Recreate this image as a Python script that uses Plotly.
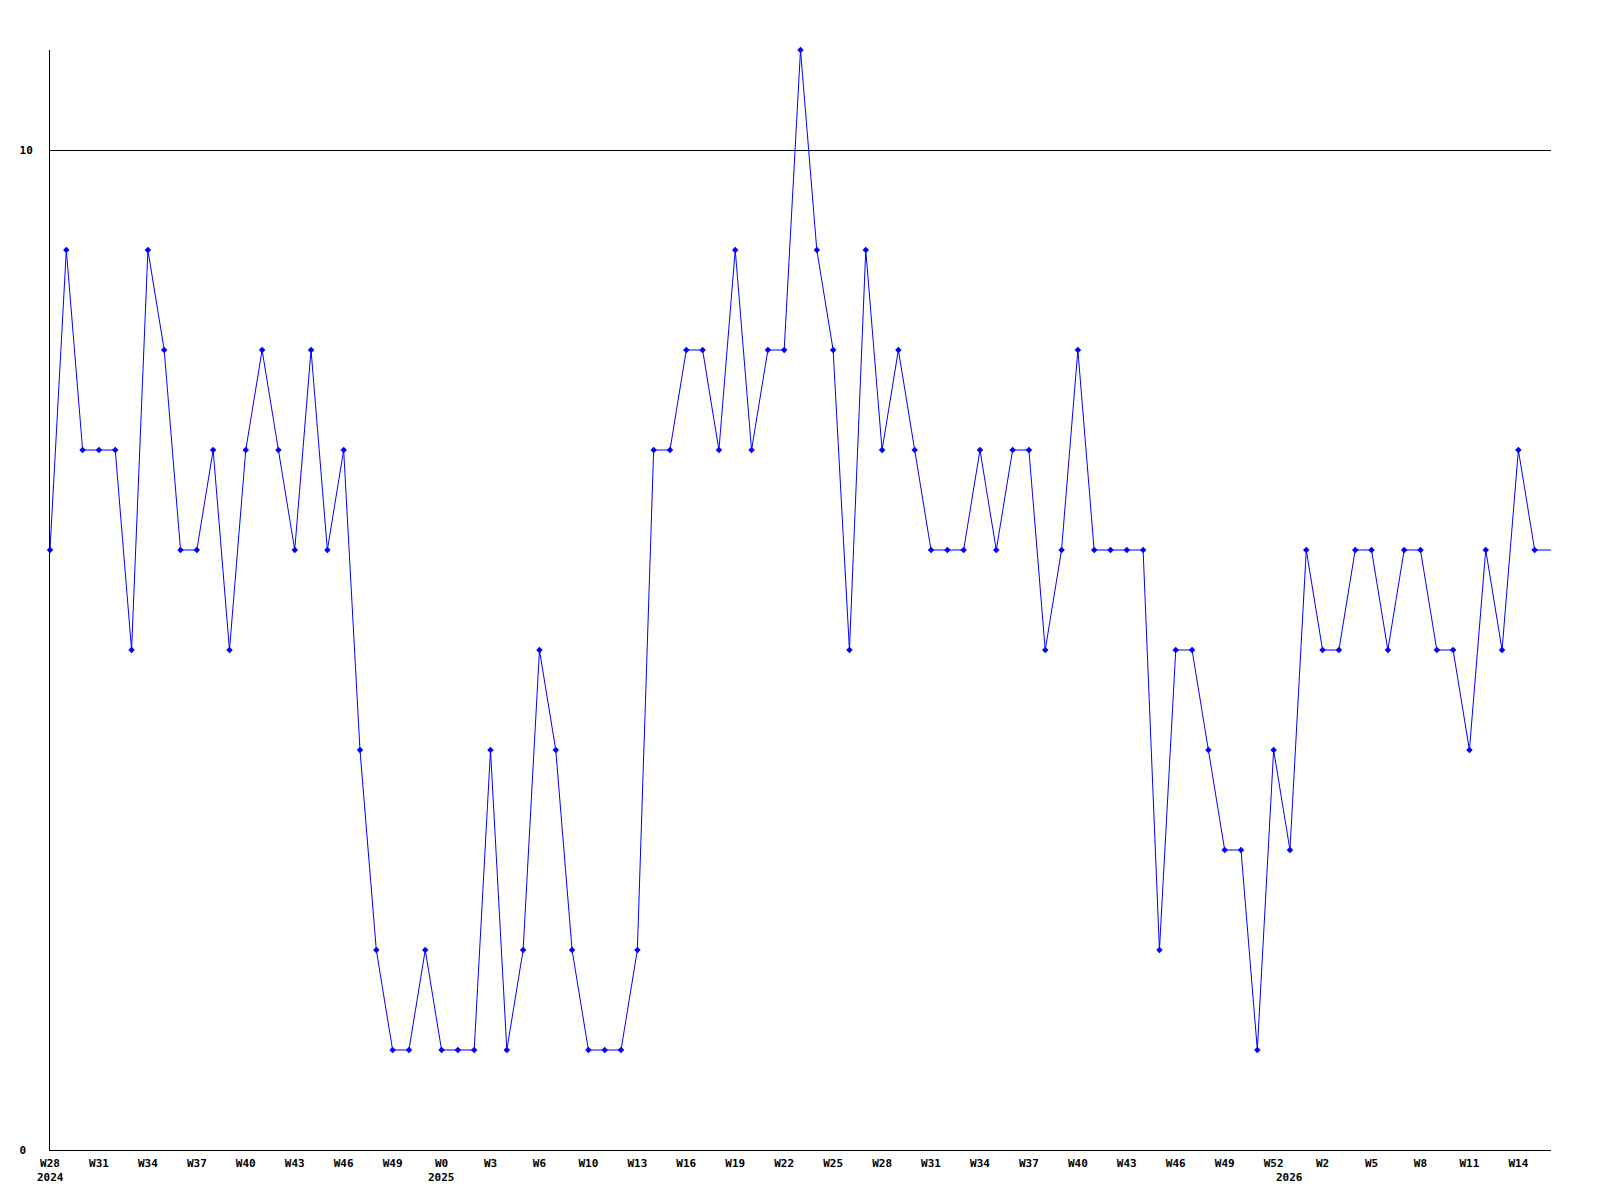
import plotly.graph_objects as go

# weekly counts, W28 2024 .. W15 2026 (one point per week)
counts = [6, 9, 7, 7, 7, 5, 9, 8, 6, 6, 7, 5, 7, 8, 7, 6, 8, 6, 7, 4,
          2, 1, 1, 2, 1, 1, 1, 4, 1, 2, 5, 4, 2, 1, 1, 1, 2, 7, 7, 8,
          8, 7, 9, 7, 8, 8, 11, 9, 8, 5, 9, 7, 8, 7, 6, 6, 6, 7, 6, 7,
          7, 5, 6, 8, 6, 6, 6, 6, 2, 5, 5, 4, 3, 3, 1, 4, 3, 6, 5, 5,
          6, 6, 5, 6, 6, 5, 5, 4, 6, 5, 7, 6]

week_labels = ["W28", "W31", "W34", "W37", "W40", "W43", "W46", "W49",
               "W0", "W3", "W6", "W10", "W13", "W16", "W19", "W22", "W25",
               "W28", "W31", "W34", "W37", "W40", "W43", "W46", "W49",
               "W52", "W2", "W5", "W8", "W11", "W14"]
label_step = 3

years = ["2024", "2025", "2026"]
year_index = [0, 24, 76]

y_ticks = [0, 10]
y_max = 11

n = len(counts)
xs = list(range(n))
blue = "#0000ff"
font = dict(family="DejaVu Sans Mono", size=11, color="black", weight="bold")

fig = go.Figure()
# line runs on to the right edge at the last value
fig.add_trace(go.Scatter(x=xs + [n], y=counts + [counts[-1]], mode="lines",
                         line=dict(color=blue, width=1), hoverinfo="skip"))
fig.add_trace(go.Scatter(x=xs, y=counts, mode="markers",
                         marker=dict(symbol="diamond", size=5, color=blue),
                         cliponaxis=False))

for yr, i in zip(years, year_index):
    fig.add_annotation(x=i, y=0, xref="x", yref="paper", text=yr,
                       showarrow=False, yanchor="top", yshift=-19, font=font)

# page adds an 8px body margin, so the margins are trimmed by that much
fig.update_layout(
    width=1600, height=1200,
    margin=dict(l=42, r=57, t=42, b=58),
    paper_bgcolor="white", plot_bgcolor="white",
    showlegend=False,
    xaxis=dict(range=[0, n], tickvals=xs[::label_step], ticktext=week_labels,
               showgrid=False, zeroline=False, showline=True, linecolor="black",
               linewidth=1, ticks="", tickfont=font, ticklabelstandoff=3),
    yaxis=dict(range=[0, y_max], tickvals=y_ticks,
               ticktext=[str(v) + "\u00a0" * (2 - len(str(v))) for v in y_ticks],
               showgrid=True, gridcolor="black", gridwidth=1, zeroline=False,
               showline=True, linecolor="black", linewidth=1, ticks="",
               tickfont=font, ticklabelstandoff=14),
)

fig.write_html("out.html")
